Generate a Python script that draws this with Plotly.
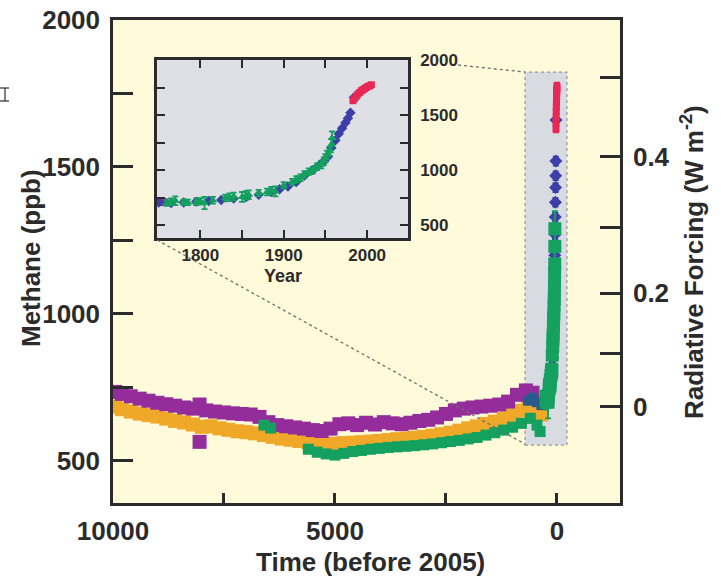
import plotly.graph_objects as go

# ---------------- data ----------------
# main panel, years before 2005
purple_bp = [9950, 9800, 9600, 9400, 9200, 9000, 8800, 8600, 8400, 8200, 8050, 7900, 7700, 7500, 7300,
             7100, 6900, 6700, 6500, 6300, 6100, 5900, 5700, 5500, 5300, 5100, 4900, 4700, 4500, 4300,
             4100, 3900, 3700, 3500, 3300, 3100, 2900, 2700, 2500, 2300, 2100, 1900, 1700, 1500, 1300,
             1100, 900, 700, 550, 8050]
purple_ppb = [735, 728, 720, 712, 705, 698, 693, 688, 682, 678, 692, 672, 668, 665, 662,
              660, 658, 650, 632, 622, 618, 614, 610, 605, 602, 610, 625, 628, 622, 630,
              624, 632, 628, 625, 630, 636, 640, 648, 660, 672, 678, 682, 685, 688, 692,
              702, 725, 740, 732, 565]

orange_bp = [9950, 9800, 9600, 9400, 9200, 9000, 8800, 8600, 8400, 8200, 8000, 7800, 7600, 7400, 7200,
             7000, 6800, 6600, 6400, 6200, 6000, 5800, 5600, 5400, 5200, 5000, 4800, 4600, 4400, 4200,
             4000, 3800, 3600, 3400, 3200, 3000, 2800, 2600, 2400, 2200, 2000, 1800, 1600, 1400, 1200,
             1000, 800, 650, 500, 350]
orange_ppb = [685, 676, 668, 661, 656, 651, 644, 636, 631, 624, 616, 618, 611, 606, 601,
              598, 594, 588, 582, 576, 572, 568, 564, 561, 559, 558, 561, 562, 564, 566,
              568, 571, 574, 576, 579, 582, 586, 591, 596, 603, 611, 618, 626, 634, 644,
              656, 671, 686, 676, 658]

green_bp = [6600, 6450, 5600, 5400, 5200, 5000, 4800, 4600, 4400, 4200, 4000, 3800, 3600, 3400, 3200,
            3000, 2800, 2600, 2400, 2200, 2000, 1800, 1600, 1400, 1200, 1000, 800, 600, 450, 380]
green_ppb = [622, 612, 540, 530, 524, 520, 526, 532, 536, 540, 543, 546, 548, 550, 552,
             555, 558, 562, 566, 570, 575, 580, 588, 596, 605, 615, 628, 645, 622, 600]

teal_bp = [650, 550, 450, 350]
teal_ppb = [705, 715, 700, 690]

# recent record (calendar years) used in the inset and the spike of the main panel
ins_purple_year = [1750, 1756]
ins_purple_ppb = [712, 708]

ins_green_year = [1760, 1765, 1770, 1780, 1785, 1795, 1800, 1805, 1815, 1830, 1835, 1840, 1850,
                  1855, 1858, 1870, 1880, 1885, 1890, 1900, 1910, 1915, 1920, 1925, 1930, 1935,
                  1940, 1945, 1948, 1950, 1952, 1955, 1957, 1958]
ins_green_ppb = [700, 712, 720, 708, 705, 712, 715, 700, 725, 745, 752, 760, 755,
                 770, 775, 790, 800, 812, 805, 860, 890, 915, 930, 960, 985, 1000,
                 1030, 1050, 1080, 1110, 1140, 1170, 1230, 1290]
ins_green_err = [25, 30, 40, 25, 25, 30, 30, 55, 30, 30, 35, 35, 45,
                 40, 40, 30, 30, 35, 45, 30, 30, 30, 30, 30, 30, 30,
                 30, 35, 35, 35, 35, 40, 50, 60]

ins_blue_year = [1750, 1765, 1780, 1795, 1810, 1825, 1840, 1855, 1870, 1885, 1895, 1905, 1915,
                 1925, 1935, 1942, 1948, 1953, 1957, 1962, 1966, 1970, 1974, 1977, 1980, 1984]
ins_blue_ppb = [705, 700, 705, 712, 718, 728, 740, 755, 775, 800, 825, 850, 890,
                950, 1000, 1040, 1080, 1120, 1200, 1270, 1330, 1380, 1430, 1470, 1520, 1660]

ins_red_year = [1983, 1985, 1987, 1989, 1991, 1993, 1995, 1997, 1999, 2001, 2003, 2005]
ins_red_ppb = [1630, 1650, 1670, 1690, 1705, 1720, 1730, 1740, 1750, 1760, 1765, 1775]

ref_year = 2005

main_xticks = [10000, 7500, 5000, 2500, 0]
main_xlabels = ["10000", "", "5000", "", "0"]
main_yticks = [500, 750, 1000, 1250, 1500, 1750, 2000]
main_ylabels = ["500", "", "1000", "", "1500", "", "2000"]
# radiative forcing ticks and the methane level each one corresponds to
rf_labels = ["0", "", "0.2", "", "0.4", ""]
rf_ppb = [684, 867, 1071, 1293, 1534, 1806]

ins_xrange = [1748, 2049]
ins_yrange = [382, 2000]
ins_xticks = [1800, 1850, 1900, 1950, 2000]
ins_xlabels = ["1800", "", "1900", "", "2000"]
ins_yticks = [500, 750, 1000, 1250, 1500, 1750, 2000]
ins_ylabels = ["500", "", "1000", "", "1500", "", "2000"]

# ---------------- styling ----------------
PURPLE = "rgb(148,45,155)"
ORANGE = "rgb(240,168,40)"
GREEN = "rgb(20,160,95)"
BLUE = "rgb(60,62,170)"
TEAL = "rgb(40,90,140)"
RED = "rgb(232,40,85)"
INK = "#2b2b2b"
FONT = "Liberation Sans, Arial, sans-serif"

W, H = 721, 584
L, R, T, B = 113, 620, 20, 503


def px(x):
    return (x - L) / (R - L)


def py(y):
    return (B - y) / (B - T)


def bp(years):
    return [ref_year - v for v in years]


fig = go.Figure()

# inset background (grey panel filling the inset axes)
fig.add_trace(go.Scatter(
    x=[ins_xrange[0], ins_xrange[1], ins_xrange[1], ins_xrange[0]],
    y=[ins_yrange[0], ins_yrange[0], ins_yrange[1], ins_yrange[1]],
    xaxis="x3", yaxis="y3", fill="toself", fillcolor="rgb(222,224,229)",
    mode="none", showlegend=False, hoverinfo="skip"))


def band(x, y, color, size, err, xa="x", ya="y", symbol="square"):
    fig.add_trace(go.Scatter(
        x=x, y=y, mode="markers", xaxis=xa, yaxis=ya, showlegend=False,
        marker=dict(symbol=symbol, size=size, color=color, line=dict(width=0)),
        error_y=dict(type="data", array=err if isinstance(err, list) else [err] * len(y),
                     color=color, thickness=1.8, width=3),
    ))


# main panel
band(orange_bp, orange_ppb, ORANGE, 14, 18)
band(purple_bp, purple_ppb, PURPLE, 14, 14)
band(green_bp, green_ppb, GREEN, 11, 14)
band(teal_bp, teal_ppb, TEAL, 10, 10)
band(bp(ins_purple_year), ins_purple_ppb, PURPLE, 10, 10)
band(bp(ins_blue_year), ins_blue_ppb, BLUE, 10, 15, symbol="diamond")
band(bp(ins_green_year), ins_green_ppb, GREEN, 13, ins_green_err)
band(bp(ins_red_year), ins_red_ppb, RED, 7, 12)

# right axis carrier
fig.add_trace(go.Scatter(x=[None], y=[None], xaxis="x", yaxis="y2", showlegend=False))

# inset
band(ins_purple_year, ins_purple_ppb, PURPLE, 8, 15, "x3", "y3")
band(ins_blue_year, ins_blue_ppb, BLUE, 8, 10, "x3", "y3", symbol="diamond")
band(ins_green_year, ins_green_ppb, GREEN, 8, ins_green_err, "x3", "y3", symbol="triangle-up")
band(ins_red_year, ins_red_ppb, RED, 7, 12, "x3", "y3")

tickfont = dict(family=FONT, size=26, color=INK, weight=700)
insfont = dict(family=FONT, size=17, color=INK, weight=700)

fig.update_layout(
    width=W, height=H,
    margin=dict(l=L, r=W - R, t=T, b=H - B, pad=0, autoexpand=False),
    paper_bgcolor="white",
    plot_bgcolor="rgb(255,250,218)",
    showlegend=False,
    xaxis=dict(domain=[0, 1], range=[10000, -1420], tickvals=main_xticks, ticktext=main_xlabels,
               ticks="inside", ticklen=10, tickwidth=2.5, tickcolor=INK, automargin=False,
               showline=True, linewidth=2.5, linecolor=INK, mirror=True,
               showgrid=False, zeroline=False, tickfont=tickfont, ticklabelstandoff=3),
    yaxis=dict(domain=[0, 1], range=[357, 2000], tickvals=main_yticks, ticktext=main_ylabels,
               ticks="inside", ticklen=20, tickwidth=2.5, tickcolor=INK, automargin=False,
               showline=True, linewidth=2.5, linecolor=INK,
               showgrid=False, zeroline=False, tickfont=tickfont, ticklabelstandoff=5),
    yaxis2=dict(overlaying="y", side="right", anchor="x", range=[357, 2000],
                tickvals=rf_ppb, ticktext=rf_labels, automargin=False,
                ticks="inside", ticklen=20, tickwidth=2.5, tickcolor=INK,
                showline=True, linewidth=2.5, linecolor=INK,
                showgrid=False, zeroline=False, tickfont=tickfont, ticklabelstandoff=5),
    xaxis3=dict(domain=[px(157), px(408)], anchor="y3", range=ins_xrange,
                tickvals=ins_xticks, ticktext=ins_xlabels, automargin=False,
                ticks="inside", ticklen=8, tickwidth=2, tickcolor=INK,
                showline=True, linewidth=2.5, linecolor=INK, mirror="ticks",
                showgrid=False, zeroline=False, tickfont=insfont, ticklabelstandoff=0),
    yaxis3=dict(domain=[py(238), py(60)], anchor="x3", range=ins_yrange, side="right",
                tickvals=ins_yticks, ticktext=ins_ylabels, automargin=False,
                ticks="inside", ticklen=8, tickwidth=2, tickcolor=INK,
                showline=True, linewidth=2.5, linecolor=INK, mirror="ticks",
                showgrid=False, zeroline=False, tickfont=insfont, ticklabelstandoff=6),
)

shapes = [
    # zoom box in main panel
    dict(type="rect", xref="x", yref="y", x0=720, x1=-225, y0=554, y1=1823,
         fillcolor="rgb(216,220,226)", line=dict(color="rgb(150,150,150)", width=1.2, dash="dot"),
         layer="below"),
    # connectors
    dict(type="line", xref="paper", yref="paper", x0=px(458), y0=py(65), x1=px(525), y1=py(72),
         line=dict(color="rgb(110,110,110)", width=1.3, dash="dot")),
    dict(type="line", xref="paper", yref="paper", x0=px(157), y0=py(240), x1=px(525), y1=py(444),
         line=dict(color="rgb(110,110,110)", width=1.3, dash="dot")),
    # stray glyph at top-left edge
    dict(type="line", xref="paper", yref="paper", x0=px(5), y0=py(88), x1=px(5), y1=py(101),
         line=dict(color=INK, width=1.2)),
    dict(type="line", xref="paper", yref="paper", x0=px(0), y0=py(88), x1=px(9), y1=py(88),
         line=dict(color=INK, width=1.2)),
    dict(type="line", xref="paper", yref="paper", x0=px(0), y0=py(101), x1=px(9), y1=py(101),
         line=dict(color=INK, width=1.2)),
]
fig.update_layout(shapes=shapes)

titlefont = dict(family=FONT, size=26, color=INK, weight=700)
fig.update_layout(annotations=[
    dict(text="Methane (ppb)", xref="paper", yref="paper", x=px(31), y=py(258),
         textangle=-90, showarrow=False, font=titlefont, xanchor="center", yanchor="middle"),
    dict(text="Radiative Forcing (W m<sup>-2</sup>)", xref="paper", yref="paper", x=px(692), y=py(262),
         textangle=-90, showarrow=False, font=titlefont, xanchor="center", yanchor="middle"),
    dict(text="Time (before 2005)", xref="paper", yref="paper", x=px(370), y=py(562),
         showarrow=False, font=titlefont, xanchor="center", yanchor="middle"),
    dict(text="Year", xref="paper", yref="paper", x=px(283), y=py(276),
         showarrow=False, font=dict(family=FONT, size=18, color=INK, weight=700),
         xanchor="center", yanchor="middle"),
])

fig.write_html("out.html", config={"displayModeBar": False},
               post_script="document.body.style.margin='0';document.body.style.padding='0';")
